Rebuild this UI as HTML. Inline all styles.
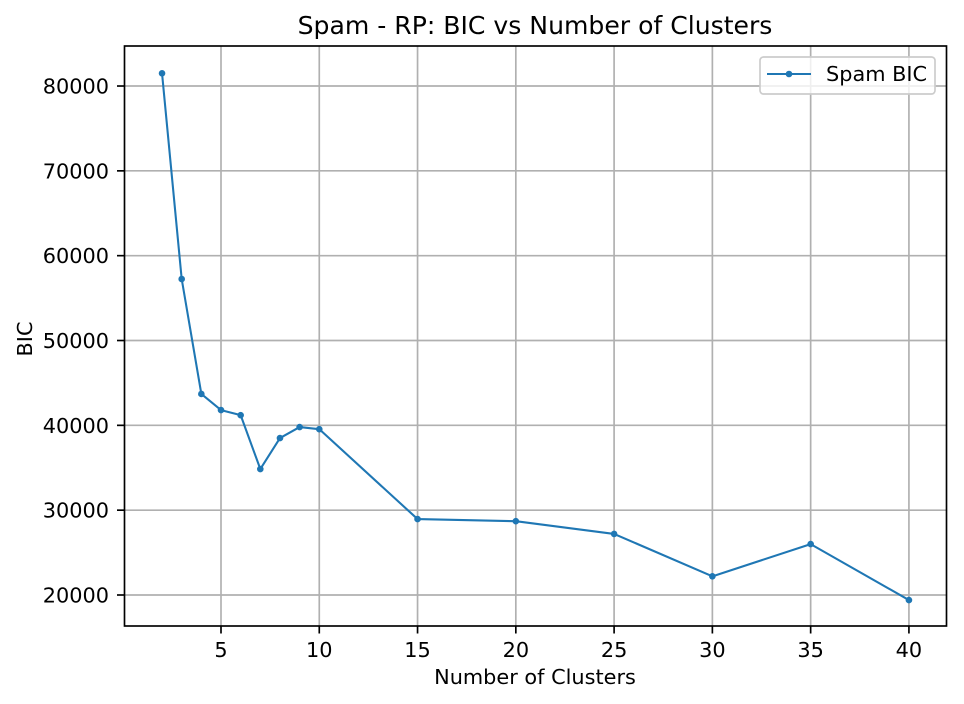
<!DOCTYPE html>
<html>
<head>
<meta charset="utf-8">
<style>
html,body{margin:0;padding:0;background:#fff;width:964px;height:704px;overflow:hidden}
svg{display:block}
text{font-family:"DejaVu Sans","Liberation Sans",sans-serif;fill:#000}
</style>
</head>
<body>
<svg id="chart" xmlns="http://www.w3.org/2000/svg" width="964" height="704" viewBox="0 0 964 704">
  <rect x="0" y="0" width="964" height="704" fill="#fff"/>
  <g id="grid"></g>
  <g id="series"></g>
  <rect x="124.5" y="46" width="822" height="580" fill="none" stroke="#000" stroke-width="1.67"/>
  <g id="ticks"></g>
  <text x="535" y="34" font-size="25.1" text-anchor="middle">Spam - RP: BIC vs Number of Clusters</text>
  <text x="535" y="684" font-size="20.83" text-anchor="middle">Number of Clusters</text>
  <text transform="translate(32,339) rotate(-90)" font-size="20.83" text-anchor="middle">BIC</text>
  <g>
    <rect x="760" y="57" width="175" height="37" rx="3.5" fill="#fff" fill-opacity="0.8" stroke="#ccc" stroke-width="1.67"/>
    <line x1="767" y1="74" x2="811" y2="74" stroke="#1f77b4" stroke-width="2.08"/>
    <circle cx="789" cy="74" r="3.3" fill="#1f77b4"/>
    <text x="826" y="81" font-size="20.83">Spam BIC</text>
  </g>
</svg>
<script>
const clusters = [2, 3, 4, 5, 6, 7, 8, 9, 10, 15, 20, 25, 30, 35, 40];
const bicValues = [81500, 57250, 43700, 41800, 41200, 34850, 38500, 39800, 39550, 28950, 28700, 27200, 22200, 26000, 19400];
const xTicks = [5, 10, 15, 20, 25, 30, 35, 40];
const yTicks = [20000, 30000, 40000, 50000, 60000, 70000, 80000];

const NS = 'http://www.w3.org/2000/svg';
function xScale(v) { return 221 + (v - 5) * 19.655; }
function yScale(v) { return 595 - (v - 20000) * 0.008483; }
function make(tag, attrs, parent) {
  const el = document.createElementNS(NS, tag);
  for (const k in attrs) el.setAttribute(k, attrs[k]);
  parent.appendChild(el);
  return el;
}
const grid = document.getElementById('grid');
const ticks = document.getElementById('ticks');
const series = document.getElementById('series');

xTicks.forEach(function (t) {
  const x = xScale(t);
  const g = make('line', {x1: x, x2: x, y1: 46, y2: 626, stroke: '#b0b0b0', 'stroke-width': 1.67}, grid);
  
  
  const m = make('line', {x1: x, x2: x, y1: 626, y2: 633.5, stroke: '#000', 'stroke-width': 1.67}, ticks);
  
  
  const l = make('text', {x: x, y: 657, 'font-size': 20.83, 'text-anchor': 'middle'}, ticks);
  l.textContent = String(t);
  
  
});

yTicks.forEach(function (t) {
  const y = yScale(t);
  const g = make('line', {x1: 124, x2: 946, y1: y, y2: y, stroke: '#b0b0b0', 'stroke-width': 1.67}, grid);
  
  
  const m = make('line', {x1: 117, x2: 124, y1: y, y2: y, stroke: '#000', 'stroke-width': 1.67}, ticks);
  
  
  const l = make('text', {x: 109, y: y + 7.5, 'font-size': 20.83, 'text-anchor': 'end'}, ticks);
  l.textContent = String(t);
  
  
});

const pts = clusters.map(function (c, i) { return xScale(c) + ',' + yScale(bicValues[i]); }).join(' ');
const line = make('polyline', {points: pts, fill: 'none', stroke: '#1f77b4', 'stroke-width': 2.08, 'stroke-linejoin': 'round'}, series);



clusters.forEach(function (c, i) {
  const p = make('circle', {cx: xScale(c), cy: yScale(bicValues[i]), r: 3.3, fill: '#1f77b4'}, series);
  
  
});
</script>
</body>
</html>
